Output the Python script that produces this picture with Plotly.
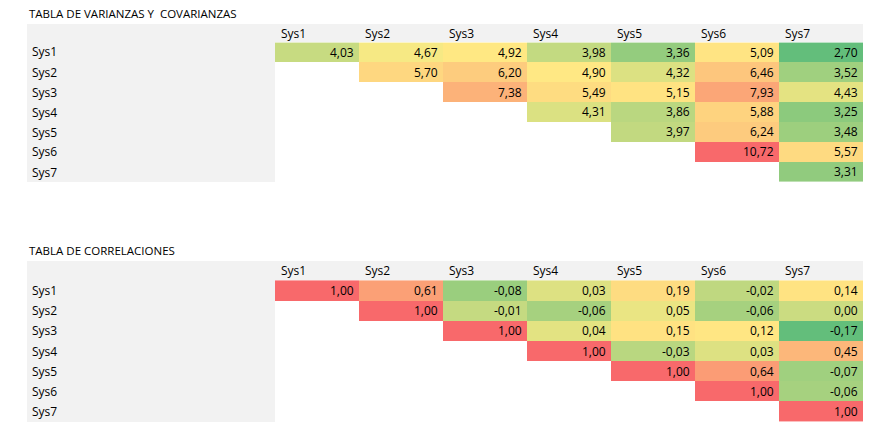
import plotly.graph_objects as go

W, H = 876, 442
OFF = 8  # page offset of the plot inside the browser window
sys_names = ["Sys1", "Sys2", "Sys3", "Sys4", "Sys5", "Sys6", "Sys7"]

# upper-triangular rows (row i starts at column i)
cov_rows = [
    [4.03, 4.67, 4.92, 3.98, 3.36, 5.09, 2.70],
    [5.70, 6.20, 4.90, 4.32, 6.46, 3.52],
    [7.38, 5.49, 5.15, 7.93, 4.43],
    [4.31, 3.86, 5.88, 3.25],
    [3.97, 6.24, 3.48],
    [10.72, 5.57],
    [3.31],
]
corr_rows = [
    [1.00, 0.61, -0.08, 0.03, 0.19, -0.02, 0.14],
    [1.00, -0.01, -0.06, 0.05, -0.06, 0.00],
    [1.00, 0.04, 0.15, 0.12, -0.17],
    [1.00, -0.03, 0.03, 0.45],
    [1.00, 0.64, -0.07],
    [1.00, -0.06],
    [1.00],
]
titles = ["TABLA DE VARIANZAS Y  COVARIANZAS", "TABLA DE CORRELACIONES"]

RED, YEL, GRN = "#F8696B", "#FFEB84", "#63BE7B"
FONT = "Open Sans"

def to_grid(rows):
    return [[None] * i + r for i, r in enumerate(rows)]

def median(vals):
    s = sorted(vals)
    m = len(s) // 2
    return s[m] if len(s) % 2 else (s[m - 1] + s[m]) / 2

# pixel layout of each table: header top, rows top, rows bottom
tables = [(24 - OFF, 42 - OFF, 182 - OFF), (261 - OFF, 280 - OFF, 422 - OFF)]
x0, x1, lab0 = 275 - OFF, 863 - OFF, 27 - OFF

fig = go.Figure()
shapes, annots = [], []
for k, (rows, (ht, rt, rb)) in enumerate(zip([cov_rows, corr_rows], tables)):
    grid = to_grid(rows)
    vals = [v for r in rows for v in r]
    lo, hi, med = min(vals), max(vals), median(vals)
    p = (med - lo) / (hi - lo)
    yname = "y" if k == 0 else "y2"
    fig.add_trace(go.Heatmap(
        z=grid, x=sys_names, y=sys_names, xaxis="x", yaxis=yname,
        colorscale=[[0, GRN], [p, YEL], [1, RED]], zmin=lo, zmax=hi,
        showscale=False, hoverinfo="skip"))
    shapes.append(dict(type="rect", xref="paper", yref="paper", layer="below",
                       x0=lab0 / W, x1=x1 / W, y0=1 - rt / H, y1=1 - ht / H,
                       fillcolor="#F2F2F2", line_width=0))
    shapes.append(dict(type="rect", xref="paper", yref="paper", layer="below",
                       x0=lab0 / W, x1=x0 / W, y0=1 - rb / H, y1=1 - rt / H,
                       fillcolor="#F2F2F2", line_width=0))
    annots.append(dict(text=titles[k], xref="paper", yref="paper", x=lab0 / W,
                       y=1 - (ht - 1) / H, xanchor="left", yanchor="bottom",
                       showarrow=False, font=dict(size=11.5)))
    colw = (x1 - x0) / len(sys_names)
    for j, name in enumerate(sys_names):
        annots.append(dict(text=name, xref="paper", yref="paper",
                           x=(x0 + j * colw + 4) / W, y=1 - (ht + rt) / 2 / H,
                           xanchor="left", yanchor="middle", showarrow=False))
    rowh = (rb - rt) / len(sys_names)
    for i, name in enumerate(sys_names):
        annots.append(dict(text=name, xref="paper", yref="paper",
                           x=(lab0 + 3) / W, y=1 - (rt + (i + 0.5) * rowh) / H,
                           xanchor="left", yanchor="middle", showarrow=False))
        for j in range(i, len(sys_names)):
            v = grid[i][j]
            annots.append(dict(text=f"{v:.2f}".replace(".", ","), x=sys_names[j],
                               y=sys_names[i], xref="x", yref=yname,
                               xanchor="right", xshift=colw / 2 - 3,
                               showarrow=False))

fig.update_layout(
    width=W, height=H, margin=dict(l=0, r=0, t=0, b=0),
    paper_bgcolor="white", plot_bgcolor="rgba(0,0,0,0)",
    font=dict(family=FONT, size=12, color="black"),
    shapes=shapes, annotations=annots,
    xaxis=dict(domain=[x0 / W, x1 / W], visible=False, fixedrange=True),
    yaxis=dict(domain=[1 - tables[0][2] / H, 1 - tables[0][1] / H],
               autorange="reversed", visible=False),
    yaxis2=dict(domain=[1 - tables[1][2] / H, 1 - tables[1][1] / H],
                autorange="reversed", visible=False),
)
fig.write_html("out.html")
